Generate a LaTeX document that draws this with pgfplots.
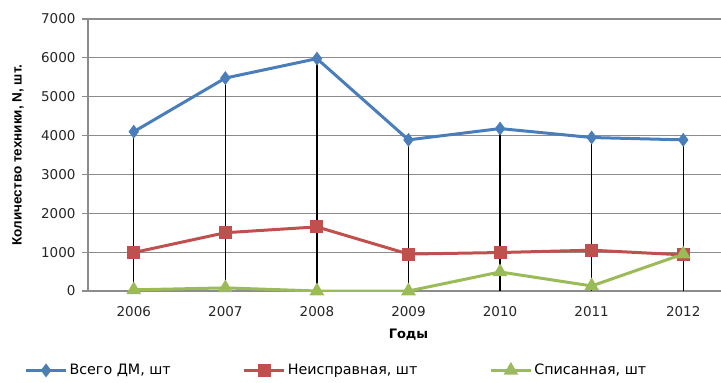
\documentclass[border=0pt]{standalone}
\usepackage{pgfplots}
\pgfplotsset{compat=1.18}
\usepackage{fontspec}
\setmainfont{DejaVu Sans}
\newfontfamily\labelfont{Liberation Sans}
\definecolor{cblue}{HTML}{4A7EBB}
\definecolor{cred}{HTML}{C0504D}
\definecolor{cgreen}{HTML}{9BBB59}
\definecolor{cgrid}{HTML}{8C8C8C}
\begin{document}
\begin{tikzpicture}
\useasboundingbox (-88pt,-92pt) rectangle (633pt,291pt);
\clip (-88pt,-92pt) rectangle (633pt,291pt);
\begin{axis}[
  scale only axis, width=641pt, height=272pt,
  xmin=-0.5, xmax=6.5, ymin=0, ymax=7000,
  xtick={0,1,2,3,4,5,6},
  xticklabels={2006,2007,2008,2009,2010,2011,2012},
  ytick={0,1000,2000,3000,4000,5000,6000,7000},
  axis x line*=bottom, axis y line*=left,
  axis line style={cgrid, line width=1.2pt},
  ymajorgrids, grid style={cgrid, line width=1.2pt},
  scaled y ticks=false,
  /pgf/number format/1000 sep={},
  /pgf/number format/assume math mode=true,
  tick label style={font=\fontsize{13.5}{15}\selectfont, text=black!85},
  xtick style={draw=none},
  ytick style={cgrid, line width=1.2pt},
  tick align=outside, major tick length=6pt,
  xticklabel style={yshift=-6pt},
  yticklabel style={xshift=-3pt},
  xlabel={Годы},
  xlabel style={at={(axis description cs:0.5,0)}, anchor=center, yshift=-44pt,
    font=\bfseries\fontsize{13}{15}\selectfont},
  ylabel={Количество техники, N, шт.},
  ylabel style={at={(axis description cs:-0.109,0.5)}, anchor=center,
    font=\labelfont\bfseries\fontsize{13.5}{15}\selectfont},
  legend columns=3,
  legend style={at={(axis description cs:-0.104,-0.292)}, anchor=west,
    draw=none, fill=none, font=\fontsize{14.3}{15}\selectfont,
    /tikz/every even column/.append style={column sep=70pt},
    nodes={inner sep=2pt}},
  legend image code/.code={\draw[mark repeat=2,mark phase=2] plot coordinates {(0pt,0pt)(20pt,0pt)(40pt,0pt)};},
]
\addplot[cblue, line width=3pt, mark=diamond*, mark size=4.5pt, mark options={solid}]
  coordinates {(0,4100) (1,5480) (2,5980) (3,3890) (4,4180) (5,3950) (6,3890)};
\addlegendentry{Всего ДМ, шт}
\addplot[cred, line width=3pt, mark=square*, mark size=5pt, mark options={solid}]
  coordinates {(0,990) (1,1500) (2,1650) (3,950) (4,990) (5,1050) (6,930)};
\addlegendentry{Неисправная, шт}
\addplot[cgreen, line width=3pt, mark=triangle*, mark size=5.5pt, mark options={solid}]
  coordinates {(0,30) (1,80) (2,0) (3,0) (4,490) (5,130) (6,950)};
\addlegendentry{Списанная, шт}
\addplot[black, line width=1.3pt, ycomb, forget plot]
  coordinates {(0,4100) (1,5480) (2,5980) (3,3890) (4,4180) (5,3950) (6,3890)};
\end{axis}
\end{tikzpicture}
\end{document}
